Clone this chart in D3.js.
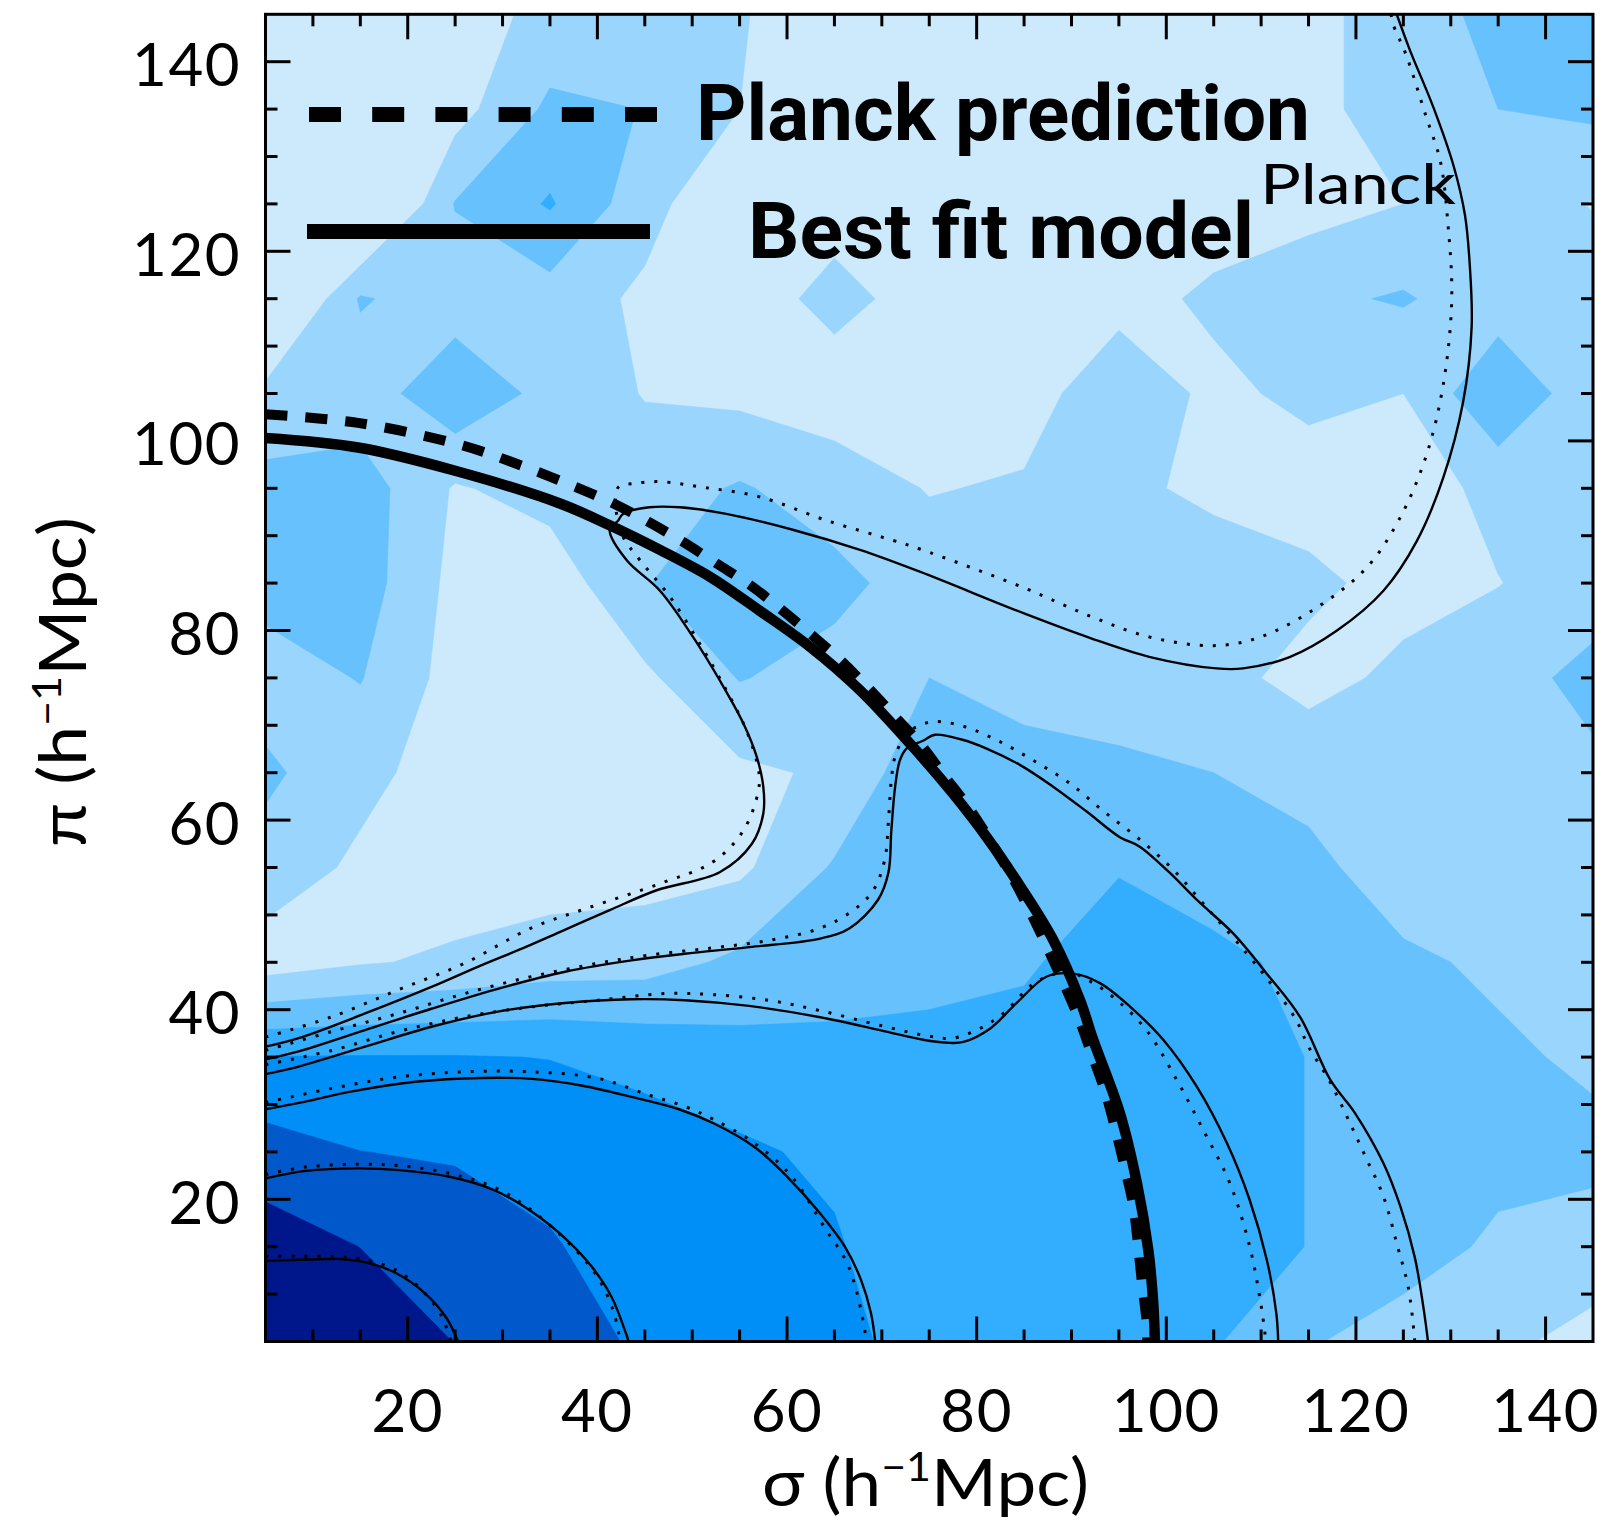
<!DOCTYPE html>
<html>
<head>
<meta charset="utf-8">
<script src="https://cdn.jsdelivr.net/npm/d3@7/dist/d3.min.js"></script>
<style>
  html, body { margin: 0; padding: 0; background: #ffffff; }
  svg { display: block; }
</style>
</head>
<body>
<svg id="chart" width="1604" height="1521"></svg>
<script>
// Grid nodes (bin centres) in sigma and pi, h^-1 Mpc
const sigmaNodes = [5, 15, 25, 35, 45, 55, 65, 75, 85, 95, 105, 115, 125, 135, 145];
const piNodes    = [5, 15, 25, 35, 45, 55, 65, 75, 85, 95, 105, 115, 125, 135, 145];

// Measured xi(sigma, pi) on the grid, in contour-level units (one row per pi bin)
const xi_pi145 = [0.5, 0.4, 0.5, 1.3, 1.3, 1.05, 0.6, 0.5, 0.5, 0.5, 0.5, 0.7, 1.5, 2.3, 2.3];
const xi_pi135 = [0.4, 0.3, 0.6, 2.2, 1.98, 1.0, 0.6, 0.5, 0.5, 0.5, 0.5, 0.7, 1.5, 2.0, 2.2];
const xi_pi125 = [0.3, -1.07, 2.05, 3.1, 1.38, 0.02, 0.6, 0.5, 0.5, 0.5, 0.6, 0.6, 1.0, 1.5, 0.95];
const xi_pi115 = [-1.0, 2.1, 1.44, 1.57, 0.8, 0.5, 1.3, 0.6, 0.6, 0.7, 1.15, 1.8, 2.1, 1.4, 1.5];
const xi_pi105 = [1.3, 1.4, 2.8, 1.66, 0.95, 0.75, 0.5, 0.6, 0.6, 1.6, 0.8, 1.2, 1.0, 2.9, 1.3];
const xi_pi95  = [2.3, 2.5, 0.9, 1.4, 1.5, 2.1, 1.5, 0.95, 1.1, 1.2, 0.8, 0.6, 0.5, 1.29, 1.5];
const xi_pi85  = [2.4, 2.5, 0.7, 0.4, 1.95, 2.6, 2.3, 1.49, 1.4, 1.3, 1.5, 1.2, 0.7, 0.97, 1.5];
const xi_pi75  = [1.5, 2.05, 0.6, 0.5, 0.8, 2.05, 1.6, 2.0, 1.7, 1.5, 1.3, 0.7, 1.2, 1.6, 2.3];
const xi_pi65  = [2.2, 1.3, 0.5, 0.5, 0.5, 0.8, 1.15, 2.75, 2.3, 2.2, 2.0, 1.6, 1.5, 1.5, 1.8];
const xi_pi55  = [1.6, 0.8, 0.5, 0.5, 0.6, 0.8, 2.1, 2.4, 2.6, 2.95, 2.6, 2.3, 1.4, 1.5, 1.6];
const xi_pi45  = [0.5, 0.92, 1.15, 1.5, 1.6, 2.2, 2.5, 2.7, 2.9, 3.4, 3.2, 2.8, 2.2, 1.8, 1.5];
const xi_pi35  = [4.02, 4.05, 4.05, 3.98, 3.75, 3.4, 3.3, 3.3, 3.3, 3.3, 3.2, 2.99, 2.4, 2.2, 1.8];
const xi_pi25  = [5.44, 5.01, 4.91, 4.6, 4.4, 4.15, 3.82, 3.5, 3.5, 3.4, 3.2, 2.99, 2.5, 2.34, 2.3];
const xi_pi15  = [6.5, 5.99, 5.5, 5.1, 4.43, 4.3, 4.1, 3.27, 3.4, 3.4, 3.2, 2.99, 2.5, 1.8, 1.5];
const xi_pi5   = [7.0, 6.6, 5.98, 5.4, 4.86, 4.6, 4.3, 3.57, 3.5, 3.4, 3.1, 2.1, 1.5, 1.2, 0.7];

const contourLevels = [1, 2, 3, 4, 5, 6];
const levelColors = ["#cdeafd", "#9ad5fd", "#66c1fd", "#33adfd", "#008ff6", "#0058cb", "#00178c"];

// Model contours: solid = best fit, dotted = Planck prediction  [sigma, pi]
const modelA_fit = [[5,13.5],[8,13.6],[11.6,13.7],[12.9,13.7],[16.0,13.25],[18.8,12.2],[21.8,10.1],[24.1,7.45],[25.3,5]];
const modelA_planck = [[5,14.0],[8.5,14.0],[12.5,13.95],[15.7,13.6],[19.0,12.4],[21.5,10.4],[23.5,7.8],[24.6,5]];
const modelB_fit = [[5,22.2],[9.25,23.0],[14.85,23.26],[19.15,23.08],[24.3,22.4],[29.05,21.0],[33.36,18.5],[36.8,15.7],[39.4,12.9],[41.5,9.7],[43.0,5.9],[43.3,5]];
const modelB_planck = [[5,22.6],[9.25,23.4],[14.85,23.7],[19.6,23.5],[25.0,22.6],[29.5,21.1],[33.5,18.5],[37.7,14.65],[40.2,11.5],[41.75,8.0],[42.4,5]];
const modelC_fit = [[5,29.5],[9.2,30.3],[13.7,31.3],[20.8,32.4],[27.8,32.8],[33.1,32.7],[38.3,32.0],[43.6,30.8],[48.6,29.5],[52.3,28.0],[56.6,25.5],[60.0,22.4],[63.5,18.5],[66.1,15.0],[67.8,11.5],[68.85,8.0],[69.3,5]];
const modelC_planck = [[5,30.2],[12,31.7],[19,32.9],[26,33.45],[33.1,33.45],[40.1,32.75],[45.4,31.0],[49.2,29.8],[52.3,28.4],[56.6,25.9],[60.5,22.4],[63.9,17.1],[66.5,12.9],[68.2,6.2],[68.3,5]];
const modelD_fit = [[5,33.2],[8.5,34.0],[15.5,36.1],[22.5,38.2],[29.5,39.8],[36.6,40.7],[43.6,41.1],[49.2,41.0],[56,40.4],[63.5,39.2],[70,37.8],[74.5,36.8],[77.2,36.5],[78.6,36.6],[81.4,38.0],[84.2,40.7],[87.4,43.5],[90.2,43.8],[93,42.8],[96.2,40.3],[99.7,36.8],[103.2,31.9],[106.4,25.9],[108.8,19.9],[110.6,13.6],[111.6,8.0],[111.8,5]];
const modelD_planck = [[5,34.2],[12,35.7],[19,37.7],[26,39.25],[33.1,40.3],[40.1,41.0],[47.1,41.7],[52,41.6],[58,41.0],[63.5,39.9],[70,38.3],[75,37.2],[77.5,37.0],[80.3,38.0],[82.8,39.6],[85.8,42.6],[88,43.7],[90.2,43.8],[92.3,42.8],[94.8,41.0],[97.9,37.85],[101.1,32.6],[103.9,27.3],[106.7,21.7],[108.8,15.0],[109.9,9.4],[110.4,5.9],[110.5,5]];
const modelE_fit = [[5,34.76],[8.5,35.6],[15.5,37.85],[22.5,40.1],[29.5,42.2],[36.6,44.0],[43.6,45.2],[49.2,45.9],[56,46.6],[63.5,47.5],[66.6,48.6],[69.6,51.6],[70.7,54.5],[71.0,58.9],[71.4,63.5],[71.9,66.3],[72.6,67.55],[74.4,68.4],[75.6,69.0],[78.4,68.5],[81.05,67.55],[84.6,65.8],[88.1,63.5],[91.6,60.9],[95.1,58.2],[97.2,57.2],[100.3,54.5],[103.2,51.6],[107.1,48.0],[110.6,43.8],[114.1,39.25],[117.3,32.6],[119.9,29.1],[122.9,23.8],[124.7,19.2],[126.2,13.9],[127.1,8.7],[127.6,5]];
const modelE_planck = [[5,35.7],[12,37.7],[19,39.6],[26,41.7],[33.1,43.5],[40.1,44.9],[45.4,45.75],[52,46.5],[58,47.3],[63.5,48.6],[67,50.5],[69.1,52.6],[70.3,55.8],[70.7,60],[71,64.2],[71.4,66.7],[72.6,69.1],[74,70.0],[75.6,70.4],[78.6,69.9],[82.5,68.25],[86.3,66.1],[89.8,63.9],[93.3,61.0],[96.9,58.2],[100.5,55],[104.5,50.5],[108.5,45.9],[111.3,42.4],[113.7,38.9],[115.0,36.1],[117.2,32.5],[119.2,28.4],[121.0,24.5],[122.9,20.3],[124.4,15.0],[125.5,10.8],[126.1,6.2],[126.2,5]];
const modelF_fit = [[5,36.1],[8.5,37.0],[15.5,39.6],[22.5,42.4],[27.8,44.7],[31.7,46.3],[36.5,48.4],[41.3,50.5],[46.25,52.6],[52.9,54.5],[56.3,57.5],[57.5,60.7],[57.5,63.5],[56.8,66.7],[55.4,70.2],[52.9,74.75],[50.1,79.3],[46.6,84.2],[43.1,87.4],[41.3,90.6],[42.2,91.6],[42.7,92.3],[45.5,93.0],[48.7,93.0],[53.6,92.3],[60.7,90.6],[67.7,88.5],[74.0,86.2],[85,81.8],[92,79.2],[98.3,77.2],[105.3,76.0],[108.1,76.0],[113.0,77.2],[118.0,80.0],[122.9,84.2],[126.4,89.4],[129.2,96.1],[131.3,104.1],[132.2,112.0],[132.0,118.6],[131.5,123.8],[130.3,129.0],[128.2,135.1],[125.7,141.2],[124.3,145]];
const modelF_planck = [[5,37.1],[12,39.25],[19,42.1],[26,44.9],[33,48.6],[38.9,50.7],[46.6,53.3],[52.2,55.6],[55.4,58.9],[57.0,63.2],[57.0,65.3],[55.7,69.5],[53.6,73.7],[50.8,78.6],[47.7,83.5],[44.5,87.4],[42.7,89.9],[42.0,92.5],[42.2,95.1],[43.8,95.5],[46.6,95.7],[51.2,95.1],[57.1,94.1],[64.2,91.6],[71.2,89.5],[74.0,88.6],[85,84.5],[92,81.5],[98.3,79.3],[105,78.4],[109.9,79.3],[115.85,82.4],[121.1,86.6],[124.6,91.8],[127.4,98.4],[129.2,105.9],[130.1,114.9],[129.7,122.9],[128.9,129.5],[127.4,134.2],[125.3,140.7],[123.9,144.0],[123.7,145]];

// BAO ring: best-fit model and Planck prediction
const ringBestFit = [[5,100.3],[14.75,99.3],[25,96.85],[36.05,93.4],[41.3,91.1],[46.6,88.5],[51.9,85.65],[57.1,82.1],[62.4,78.3],[67.7,73.7],[73.3,67.7],[77.5,62.8],[81.05,58.2],[84.6,53.0],[88.1,47.3],[90.9,41.0],[92.3,36.8],[95.1,29.1],[96.9,21.7],[98.1,14.65],[98.6,9.4],[98.8,5]];
const ringPlanck = [[5,102.8],[14.75,101.9],[25.5,99.6],[30.9,97.8],[37.8,95.1],[41.7,93.4],[45.4,91.45],[49.1,89.3],[52.6,87.05],[56.1,84.8],[59.3,82.3],[62.4,79.7],[65.6,76.9],[68.6,73.9],[71.4,70.9],[74.0,68.1],[76.65,64.6],[79.1,61.4],[81.4,57.9],[83.5,54.4],[85.4,50.85],[90.55,39.6],[92.1,35.4],[93.5,31.5],[94.6,27.5],[95.6,23.4],[96.5,19.4],[97.0,15.35],[97.4,11.5],[97.9,7.3],[98.0,5]];

const majorTicks = [20, 40, 60, 80, 100, 120, 140];
const minorTicks = [10, 15, 25, 30, 35, 45, 50, 55, 65, 70, 75, 85, 90, 95, 105, 110, 115, 125, 130, 135];

// ---------------------------------------------------------------------------
const svg = d3.select("#chart");
const x = d3.scaleLinear().domain([5, 145]).range([265.5, 1593]);
const y = d3.scaleLinear().domain([5, 145]).range([1341.5, 14.3]);

svg.append("defs").append("clipPath").attr("id", "plotClip")
  .append("rect")
  .attr("x", x(5)).attr("y", y(145))
  .attr("width", x(145) - x(5)).attr("height", y(5) - y(145));

const plot = svg.append("g").attr("clip-path", "url(#plotClip)");

// filled contours of the measurement
const rows = [xi_pi5, xi_pi15, xi_pi25, xi_pi35, xi_pi45, xi_pi55, xi_pi65, xi_pi75,
              xi_pi85, xi_pi95, xi_pi105, xi_pi115, xi_pi125, xi_pi135, xi_pi145];
const nx = sigmaNodes.length, ny = piNodes.length;
const values = [];
rows.forEach(r => r.forEach(v => values.push(v)));

const step = sigmaNodes[1] - sigmaNodes[0];
const gridProj = d3.geoTransform({
  point(gx, gy) {
    this.stream.point(x(sigmaNodes[0] + (gx - 0.5) * step), y(piNodes[0] + (gy - 0.5) * step));
  }
});
const gridPath = d3.geoPath(gridProj);

plot.append("rect")
  .attr("x", x(5)).attr("y", y(145))
  .attr("width", x(145) - x(5)).attr("height", y(5) - y(145))
  .attr("fill", levelColors[0]);

const bands = d3.contours().size([nx, ny]).thresholds(contourLevels)(values);
plot.selectAll("path.band").data(bands).join("path")
  .attr("class", "band")
  .attr("d", gridPath)
  .attr("fill", (d, i) => levelColors[i + 1])
  .attr("stroke", (d, i) => levelColors[i + 1])
  .attr("stroke-width", 0.6);

// model contour lines
const line = d3.line().x(d => x(d[0])).y(d => y(d[1])).curve(d3.curveCatmullRom.alpha(0.5));

const fitCurves = [modelA_fit, modelB_fit, modelC_fit, modelD_fit, modelE_fit, modelF_fit];
const planckCurves = [modelA_planck, modelB_planck, modelC_planck, modelD_planck, modelE_planck, modelF_planck];

plot.selectAll("path.fit").data(fitCurves).join("path")
  .attr("class", "fit")
  .attr("d", line)
  .attr("fill", "none").attr("stroke", "#000").attr("stroke-width", 2.4);

plot.selectAll("path.planck").data(planckCurves).join("path")
  .attr("class", "planck")
  .attr("d", line)
  .attr("fill", "none").attr("stroke", "#000").attr("stroke-width", 3)
  .attr("stroke-dasharray", "3 10");

// BAO ring
plot.append("path").datum(ringBestFit)
  .attr("d", line).attr("fill", "none").attr("stroke", "#000").attr("stroke-width", 10.5);
plot.append("path").datum(ringPlanck)
  .attr("d", line).attr("fill", "none").attr("stroke", "#000").attr("stroke-width", 10)
  .attr("stroke-dasharray", "22 18");

// frame and ticks on all four sides
const axes = svg.append("g").attr("stroke", "#000").attr("stroke-width", 3);
axes.append("rect")
  .attr("x", x(5)).attr("y", y(145))
  .attr("width", x(145) - x(5)).attr("height", y(5) - y(145))
  .attr("fill", "none");

const tickSets = [{v: majorTicks, len: 25}, {v: minorTicks, len: 12}];
tickSets.forEach(ts => {
  ts.v.forEach(t => {
    axes.append("line").attr("x1", x(t)).attr("x2", x(t)).attr("y1", y(5)).attr("y2", y(5) - ts.len);
    axes.append("line").attr("x1", x(t)).attr("x2", x(t)).attr("y1", y(145)).attr("y2", y(145) + ts.len);
    axes.append("line").attr("y1", y(t)).attr("y2", y(t)).attr("x1", x(5)).attr("x2", x(5) + ts.len);
    axes.append("line").attr("y1", y(t)).attr("y2", y(t)).attr("x1", x(145)).attr("x2", x(145) - ts.len);
  });
});

const tickFont = "Lato, 'DejaVu Sans', sans-serif";
svg.append("g").selectAll("text").data(majorTicks).join("text")
  .attr("x", d => x(d)).attr("y", 1432)
  .attr("text-anchor", "middle")
  .attr("font-family", tickFont).attr("font-size", 60)
  .attr("letter-spacing", 1.5)
  .text(d => d);

svg.append("g").selectAll("text").data(majorTicks).join("text")
  .attr("x", 241).attr("y", d => y(d) + 24.5)
  .attr("text-anchor", "end")
  .attr("font-family", tickFont).attr("font-size", 60)
  .attr("letter-spacing", 1.5)
  .text(d => d);

// axis titles
const xTitle = svg.append("text")
  .attr("x", 762).attr("y", 1506)
  .attr("font-family", tickFont).attr("font-size", 66)
  .attr("textLength", 327).attr("lengthAdjust", "spacingAndGlyphs");
xTitle.append("tspan").text("σ  (h");
xTitle.append("tspan").attr("dy", -25).attr("font-size", 40).text("−1");
xTitle.append("tspan").attr("dy", 25).text("Mpc)");

const yTitle = svg.append("text")
  .attr("transform", "translate(86,847) rotate(-90)")
  .attr("font-family", tickFont).attr("font-size", 66)
  .attr("textLength", 330).attr("lengthAdjust", "spacingAndGlyphs");
yTitle.append("tspan").text("π  (h");
yTitle.append("tspan").attr("dy", -25).attr("font-size", 40).text("−1");
yTitle.append("tspan").attr("dy", 25).text("Mpc)");

// legend
const legend = svg.append("g");
legend.append("line").attr("x1", 309).attr("x2", 657).attr("y1", 114.5).attr("y2", 114.5)
  .attr("stroke", "#000").attr("stroke-width", 15).attr("stroke-dasharray", "32 31.2");
legend.append("line").attr("x1", 307).attr("x2", 650).attr("y1", 231.5).attr("y2", 231.5)
  .attr("stroke", "#000").attr("stroke-width", 15);

const legendFont = "Roboto, 'DejaVu Sans', sans-serif";
legend.append("text").attr("x", 696).attr("y", 140)
  .attr("font-family", legendFont).attr("font-weight", 700).attr("font-size", 77)
  .attr("textLength", 614).attr("lengthAdjust", "spacingAndGlyphs")
  .text("Planck prediction");
legend.append("text").attr("x", 748).attr("y", 258)
  .attr("font-family", legendFont).attr("font-weight", 700).attr("font-size", 77)
  .attr("textLength", 506).attr("lengthAdjust", "spacingAndGlyphs")
  .text("Best fit model");
legend.append("text").attr("x", 1260).attr("y", 204)
  .attr("font-family", tickFont).attr("font-size", 57)
  .attr("textLength", 196).attr("lengthAdjust", "spacingAndGlyphs")
  .text("Planck");
</script>
</body>
</html>
